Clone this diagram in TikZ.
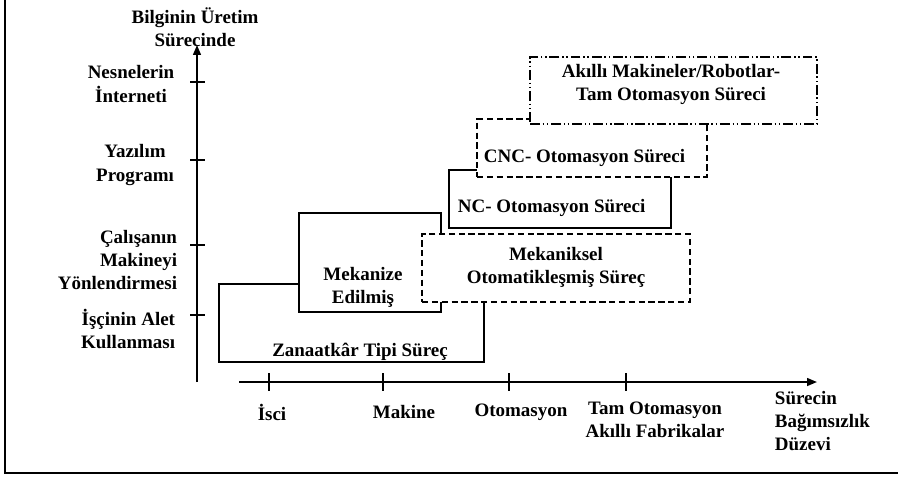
\documentclass[tikz,border=0pt]{standalone}
\usepackage{fontspec}
\setmainfont{Liberation Serif}
\usetikzlibrary{arrows.meta, positioning, fit}

\begin{document}
\begin{tikzpicture}[x=0.025cm, y=-0.025cm,
  every node/.style={font=\bfseries\fontsize{13.5}{16.4}\selectfont, align=center},
  stage/.style={draw, fill=white, line width=0.9pt, inner sep=0pt},
  stagedash/.style={stage, dash pattern=on 4.5pt off 2.5pt},
  stagedots/.style={stage, dash pattern=on 7pt off 2pt on 1pt off 2pt on 1pt off 2pt},
  axis/.style={line width=1.3pt, -{Triangle[length=7pt, width=5.5pt]}},
  tickmark/.style={line width=0.8pt}]
  \useasboundingbox (0,0) rectangle (898,476);
  % frame
  \draw[line width=1.4pt] (5,0) -- (5,473) -- (898,473);

  % axes
  \coordinate (yfoot) at (197,382);
  \coordinate (ytip)  at (197,45);
  \coordinate (xfoot) at (239,382);
  \coordinate (xtip)  at (817,382);
  \draw[axis] (yfoot) -- (ytip);
  \draw[axis] (xfoot) -- (xtip);
  \foreach \t in {82,160,245,315}
    \draw[tickmark] (190,\t) -- (205,\t);
  \foreach \t in {269,383,509,626}
    \draw[tickmark] (\t,373) -- (\t,391);

  % stages, back to front
  \node[stage, fit={(219,284) (484,362)}] (craft) {};
  \node[stage, fit={(299,213) (441,312)}] (mech) {};
  \node[stagedash, fit={(422,234) (690,302)}] (mechauto) {};
  \node[stage, fit={(449,170) (671,228)}] (nc) {};
  \node[stagedash, fit={(477,119) (707,177)}] (cnc) {};
  \node[stagedots, fit={(530,57) (817,124)}] (smart) {};

  % stage labels
  \node (crafttxt) at (360,352) {Zanaatkâr Tipi Süreç};
  \node (mechtxt) at (363,287) {Mekanize\\Edilmiş};
  \node (mechautotxt) at (556,267) {Mekaniksel\\Otomatikleşmiş Süreç};
  \node[anchor=west] (nctxt) at (453,208) {NC- Otomasyon Süreci};
  \node[anchor=west] (cnctxt) at (479,158) {CNC- Otomasyon Süreci};
  \node (smarttxt) at (671,84) {Akıllı Makineler/Robotlar-\\Tam Otomasyon Süreci};

  % vertical axis labels
  \node (ytitle) at (195,27) {Bilginin Üretim\\Sürecinde};
  \node (iot) at (131,84) {Nesnelerin\\İnterneti};
  \node (soft) at (135,165) {Yazılım\\Programı};
  \node[anchor=east, align=right] (steer) at (182,260) {Çalışanın\\Makineyi\\Yönlendirmesi};
  \node[anchor=east, align=right] (tool) at (180,329) {İşçinin Alet\\Kullanması};

  % horizontal axis labels
  \node (worker) at (272,412) {İsci};
  \node (machine) at (404,412) {Makine};
  \node (auto) at (521,412) {Otomasyon};
  \node (fullauto) at (655,420) {Tam Otomasyon\\Akıllı Fabrikalar};
  \node[anchor=west, align=left] (xtitle) at (770,421) {Sürecin\\Bağımsızlık\\Düzevi};
\end{tikzpicture}
\end{document}
